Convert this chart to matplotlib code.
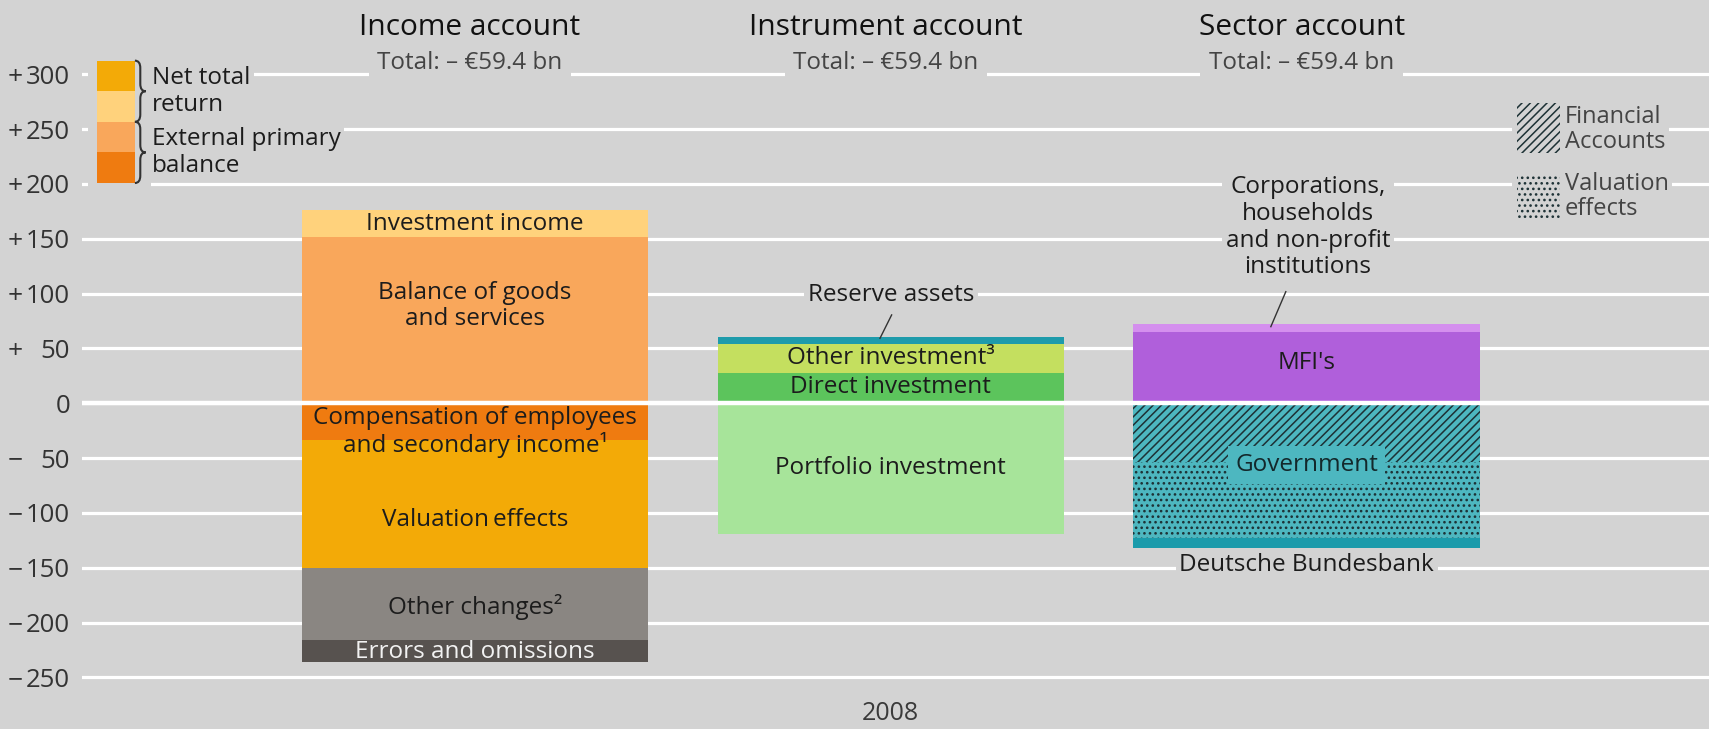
import matplotlib.pyplot as plt
import matplotlib.transforms as mtransforms
from matplotlib.patches import Rectangle, PathPatch
from matplotlib.path import Path

plt.rcParams['font.family'] = ['Open Sans', 'DejaVu Sans']
plt.rcParams['hatch.linewidth'] = 1.1

# data (EUR bn), segments listed top to bottom
accounts = ['Income account', 'Instrument account', 'Sector account']
totals = ['Total: \u2013 \u20ac59.4 bn'] * 3
year = '2008'

income_labels = ['Investment income', 'Balance of goods\nand services',
                 'Compensation of employees\nand secondary income\u00b9',
                 'Valuation\u2009effects', 'Other changes\u00b2', 'Errors and omissions']
income_values = [24.3, 151.9, -33.6, -117.0, -65.4, -19.6]

instrument_labels = ['Reserve assets', 'Other investment\u00b3', 'Direct investment',
                     'Portfolio investment']
instrument_values = [6.1, 26.2, 27.8, -119.5]

sector_labels = ['Corporations,\nhouseholds\nand non-profit\ninstitutions', "MFI's",
                 'Government', 'Government', 'Deutsche Bundesbank']
sector_values = [7.5, 64.7, -53.4, -69.5, -8.7]

# styles
bg = '#d3d3d3'
txt = '#1c1c1c'
income_colors = ['#ffd27c', '#f9a75b', '#ef7b10', '#f3aa07', '#8a8682', '#57524f']
instrument_colors = ['#1e9bab', '#c4df5f', '#5cc45c', '#a7e49a']
sector_colors = ['#d48fee', '#b05fdb', '#4db7c0', '#4db7c0', '#1a9bab']
sector_hatch = [None, None, '////', '...', None]
hatch_col = '#1d3135'

income_label_y = [163.4, 88.7, -26.3, -106.5, -185.6, -226.6]
instrument_label_y = [None, 41, 15, -59.4]
sector_label_y = [None, 36.4, -56.3, None, None]

width = 0.833
fig = plt.figure(figsize=(17.09, 7.29), dpi=100, facecolor=bg)
ax = fig.add_axes([82 / 1709, 0, 1 - 82 / 1709, 1])
ax.set_facecolor(bg)
ax.set_xlim(-0.9452, 2.9678)
ax.set_ylim(-297.1, 367.7)
for s in ax.spines.values():
    s.set_visible(False)

ticks = list(range(-250, 301, 50))
ax.set_yticks(ticks)
ax.set_yticklabels([str(abs(t)) for t in ticks], fontsize=18.5, color='#333333')
ax.tick_params(axis='y', length=0, pad=8.6)
ax.set_xticks([])
ax.grid(axis='y', color='white', lw=2.3)
ax.set_axisbelow(True)
ax.axhline(0, color='white', lw=3.2, zorder=3)

sign_tr = mtransforms.blended_transform_factory(fig.transFigure, ax.transData)
for t in ticks:
    if t != 0:
        fig.text(8 / 1709, t, '+' if t > 0 else '\u2212', transform=sign_tr,
                 ha='left', va='center_baseline', fontsize=19, color='#333333')


def stack(xpos, values, colors, hatches=None):
    """draw one stacked bar, positives upward from 0 and negatives downward"""
    spans = [None] * len(values)
    top = 0
    for i in reversed(range(len(values))):
        if values[i] > 0:
            spans[i] = (top, values[i])
            top += values[i]
    bot = 0
    for i in range(len(values)):
        if values[i] < 0:
            spans[i] = (bot, values[i])
            bot += values[i]
    for i, (b, h) in enumerate(spans):
        hatch = hatches[i] if hatches else None
        ax.bar(xpos, h, width, bottom=b, color=colors[i], zorder=2,
               hatch=hatch, edgecolor=hatch_col if hatch else colors[i], linewidth=0)


def put_labels(xpos, labels, ys, color=txt, **kw):
    for lab, y in zip(labels, ys):
        if y is not None:
            ax.text(xpos, y, lab, ha='center', va='center', fontsize=17.5,
                    color=color, zorder=4, linespacing=1.1, **kw)


stack(0, income_values, income_colors)
stack(1, instrument_values, instrument_colors)
stack(2, sector_values, sector_colors, sector_hatch)

put_labels(0, income_labels[:5], income_label_y[:5])
ax.text(0, income_label_y[5], income_labels[5], ha='center', va='center',
        fontsize=17.5, color='#f2f2f2', zorder=4)
put_labels(1, instrument_labels, instrument_label_y)
put_labels(2, sector_labels[:2], sector_label_y[:2])
ax.text(2, sector_label_y[2], sector_labels[2], ha='center', va='center', fontsize=17.5,
        color='#13282b', zorder=5,
        bbox=dict(boxstyle='square,pad=0.3', fc=sector_colors[2], ec='none'))

box = dict(boxstyle='square,pad=0.15', fc=bg, ec='none')
# outside labels with leader lines
ax.text(1, 98.7, instrument_labels[0], ha='center', va='center', fontsize=17.5,
        color=txt, bbox=box, zorder=4)
ax.plot([1.002, 0.974], [80.5, 59.2], color='#333333', lw=1, zorder=4)
ax.text(2.003, 160.3, sector_labels[0], ha='center', va='center', fontsize=17.5,
        color=txt, bbox=box, zorder=4, linespacing=1.15)
ax.plot([1.950, 1.914], [101.7, 69.8], color='#333333', lw=1, zorder=4)
ax.text(2, -147.6, sector_labels[4], ha='center', va='center', fontsize=17.5,
        color=txt, bbox=box, zorder=4)

# column titles
for i, (name, tot) in enumerate(zip(accounts, totals)):
    ax.text(i - 0.012, 342.2, name, ha='center', va='center', fontsize=21.5, color='#111111')
    ax.text(i - 0.012, 310.3, tot, ha='center', va='center', fontsize=17.5,
            color='#444444', bbox=dict(boxstyle='square,pad=0.35', fc=bg, ec='none'))

ax.text(1, -283.4, year, ha='center', va='center', fontsize=18, color='#3a3a3a')

# left legend: colour boxes with braces
ax.add_patch(Rectangle((-0.93, 190), 0.15, 130, fc=bg, ec='none', zorder=1))
legend_colors = [income_colors[3], income_colors[0], income_colors[1], income_colors[2]]
for k, c in enumerate(legend_colors):
    ax.add_patch(Rectangle((-0.909, 284.5 - 27.9 * k), 0.091, 27.9, fc=c, ec='none', zorder=2))


def brace(x0, x1, y0, y1):
    xm = (x0 + x1) / 2
    ym = (y0 + y1) / 2
    h = (y1 - y0) * 0.12
    verts = [(x0, y1), (xm, y1), (xm, y1 - h), (xm, ym + h), (xm, ym), (x1, ym),
             (xm, ym), (xm, ym - h), (xm, y0 + h), (xm, y0), (x0, y0)]
    codes = [Path.MOVETO, Path.CURVE3, Path.CURVE3, Path.LINETO, Path.CURVE3, Path.CURVE3,
             Path.CURVE3, Path.CURVE3, Path.LINETO, Path.CURVE3, Path.CURVE3]
    ax.add_patch(PathPatch(Path(verts, codes), fill=False, lw=1.5, ec='#333333', zorder=3))


brace(-0.818, -0.792, 256.6, 312.4)
brace(-0.818, -0.792, 200.8, 256.6)
ax.text(-0.777, 284.5, 'Net total\nreturn', ha='left', va='center', fontsize=17.5,
        color=txt, linespacing=1.15, bbox=box, zorder=3)
ax.text(-0.777, 228.7, 'External primary\nbalance', ha='left', va='center', fontsize=17.5,
        color=txt, linespacing=1.15, bbox=box, zorder=3)

# right legend: hatch types
ax.add_patch(Rectangle((2.495, 160), 0.13, 120, fc=bg, ec='none', zorder=1))
ax.add_patch(Rectangle((2.506, 228.0), 0.103, 45.5, fc='none', ec=hatch_col,
                       hatch='////', lw=0, zorder=2))
ax.add_patch(Rectangle((2.506, 168.9), 0.103, 39.2, fc='none', ec=hatch_col,
                       hatch='...', lw=0, zorder=2))
ax.text(2.621, 249.2, 'Financial\nAccounts', ha='left', va='center', fontsize=17,
        color='#444444', linespacing=1.05, bbox=box, zorder=3)
ax.text(2.621, 188.5, 'Valuation\neffects', ha='left', va='center', fontsize=17,
        color='#444444', linespacing=1.05, bbox=box, zorder=3)

fig.savefig('out.png', dpi=100, facecolor=bg)
